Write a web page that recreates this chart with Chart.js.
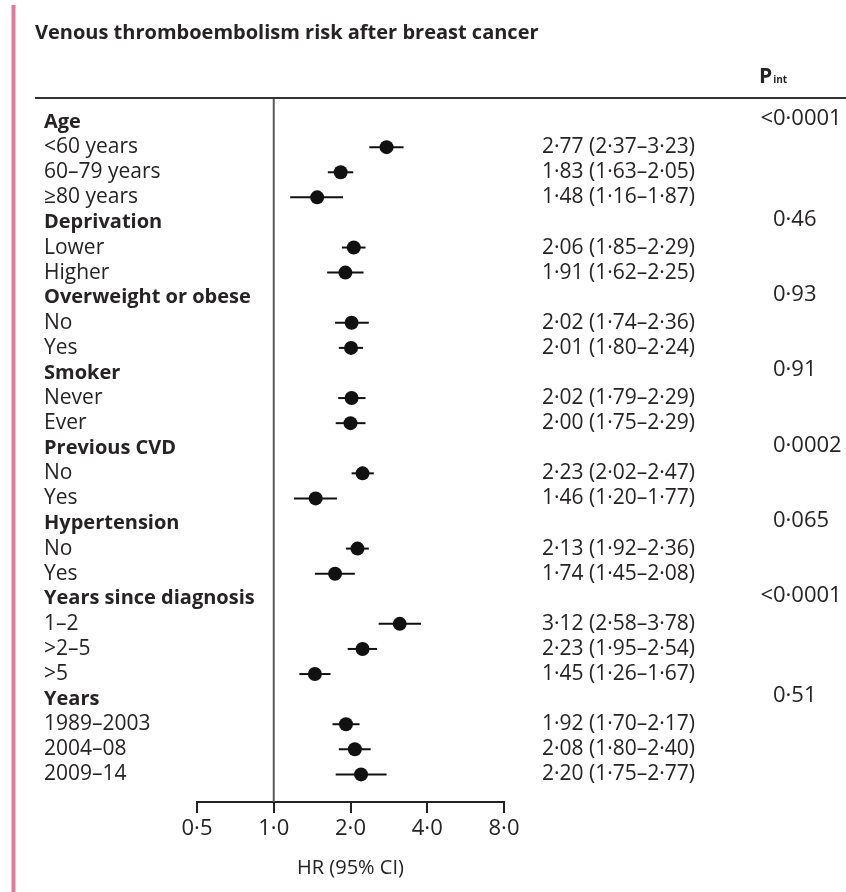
<!DOCTYPE html>
<html>
<head>
<meta charset="utf-8">
<script src="https://cdn.jsdelivr.net/npm/chart.js@4"></script>
<style>
  html, body { margin: 0; padding: 0; background: #fff; }
</style>
</head>
<body>
<canvas id="forestChart" width="846" height="892"></canvas>
<script>
// Dados do gráfico
const groupNames = ['Age', 'Deprivation', 'Overweight or obese', 'Smoker', 'Previous CVD', 'Hypertension', 'Years since diagnosis', 'Years'];
const pInteraction = ['<0·0001', '0·46', '0·93', '0·91', '0·0002', '0·065', '<0·0001', '0·51'];
const subgroupNames = [
    ['<60 years', '60–79 years', '≥80 years'],
    ['Lower', 'Higher'],
    ['No', 'Yes'],
    ['Never', 'Ever'],
    ['No', 'Yes'],
    ['No', 'Yes'],
    ['1–2', '>2–5', '>5'],
    ['1989–2003', '2004–08', '2009–14']
];
const hrValues = [[2.77, 1.83, 1.48], [2.06, 1.91], [2.02, 2.01], [2.02, 2.00], [2.23, 1.46], [2.13, 1.74], [3.12, 2.23, 1.45], [1.92, 2.08, 2.20]];
const ciLower = [[2.37, 1.63, 1.16], [1.85, 1.62], [1.74, 1.80], [1.79, 1.75], [2.02, 1.20], [1.92, 1.45], [2.58, 1.95, 1.26], [1.70, 1.80, 1.75]];
const ciUpper = [[3.23, 2.05, 1.87], [2.29, 2.25], [2.36, 2.24], [2.29, 2.29], [2.47, 1.77], [2.36, 2.08], [3.78, 2.54, 1.67], [2.17, 2.40, 2.77]];
const xTickValues = [0.5, 1, 2, 4, 8];

const titleText = 'Venous thromboembolism risk after breast cancer';
const axisTitle = 'HR (95% CI)';

const FONT = '"Open Sans", "Noto Sans", sans-serif';
const INK = '#262324';

function fmt(v) {
    return v.toFixed(2).replace('.', '·');
}

// monta as linhas da tabela (cabeçalho do grupo + subgrupos)
const rows = [];
groupNames.forEach(function (g, gi) {
    rows.push({ label: g, header: true, p: pInteraction[gi] });
    subgroupNames[gi].forEach(function (s, si) {
        rows.push({ label: s, header: false, hr: hrValues[gi][si], lo: ciLower[gi][si], hi: ciUpper[gi][si] });
    });
});

const points = [];
rows.forEach(function (r, i) {
    if (!r.header) points.push({ x: r.hr, y: i, lo: r.lo, hi: r.hi });
});

const forestPlugin = {
    id: 'forest',
    beforeDraw(chart) {
        const ctx = chart.ctx;
        ctx.save();
        // faixa rosa na margem esquerda
        ctx.fillStyle = '#f3b9cc';
        ctx.fillRect(11, 5, 5, chart.height - 5);
        ctx.fillStyle = '#de7a9d';
        ctx.fillRect(12, 5, 3, chart.height - 5);
        ctx.restore();
    },
    beforeDatasetsDraw(chart) {
        const ctx = chart.ctx;
        const xs = chart.scales.x, ys = chart.scales.y;
        const area = chart.chartArea;
        ctx.save();
        // linha de referência HR = 1
        ctx.strokeStyle = '#5a5a5a';
        ctx.lineWidth = 2;
        ctx.beginPath();
        ctx.moveTo(xs.getPixelForValue(1), area.top);
        ctx.lineTo(xs.getPixelForValue(1), area.bottom);
        ctx.stroke();
        // régua superior da tabela
        ctx.strokeStyle = '#333';
        ctx.beginPath();
        ctx.moveTo(35, area.top);
        ctx.lineTo(846, area.top);
        ctx.stroke();
        // intervalos de confiança
        ctx.strokeStyle = '#111';
        ctx.lineWidth = 2;
        points.forEach(function (p) {
            const y = ys.getPixelForValue(p.y);
            ctx.beginPath();
            ctx.moveTo(xs.getPixelForValue(p.lo), y);
            ctx.lineTo(xs.getPixelForValue(p.hi), y);
            ctx.stroke();
        });
        ctx.restore();
    },
    afterDraw(chart) {
        const ctx = chart.ctx;
        const ys = chart.scales.y;
        ctx.save();
        ctx.fillStyle = INK;
        ctx.textBaseline = 'middle';
        ctx.textAlign = 'left';

        ctx.font = 'bold 20px ' + FONT;
        ctx.fillText(titleText, 35, 33);

        // cabeçalho P_int
        ctx.textBaseline = 'alphabetic';
        ctx.font = 'bold 21px ' + FONT;
        ctx.fillText('P', 759, 83);
        const pw = ctx.measureText('P').width;
        ctx.font = 'bold 10px ' + FONT;
        ctx.fillText('int', 759 + pw + 1, 83);
        ctx.textBaseline = 'middle';

        rows.forEach(function (r, i) {
            const y = ys.getPixelForValue(i);
            if (r.header) {
                ctx.font = 'bold 20px ' + FONT;
                ctx.fillText(r.label, 44, y);
                ctx.font = '22px ' + FONT;
                let x = 773;
                if (r.p.charAt(0) === '<') x -= ctx.measureText('<').width;
                ctx.fillText(r.p, x, y - 3);
            } else {
                ctx.font = '21px ' + FONT;
                ctx.fillText(r.label, 44, y);
                ctx.fillText(fmt(r.hr) + ' (' + fmt(r.lo) + '–' + fmt(r.hi) + ')', 542, y);
            }
        });
        ctx.restore();
    }
};

const ctxForest = document.getElementById('forestChart');
new Chart(ctxForest, {
    type: 'scatter',
    data: {
        datasets: [{
            data: points,
            pointRadius: 7,
            pointHoverRadius: 7,
            backgroundColor: '#111',
            borderColor: '#111',
            borderWidth: 0
        }]
    },
    options: {
        responsive: false,
        devicePixelRatio: 1,
        animation: false,
        layout: { padding: { left: 197, right: 342, top: 98, bottom: 0 } },
        plugins: { legend: { display: false }, tooltip: { enabled: false } },
        scales: {
            x: {
                type: 'logarithmic',
                min: 0.5,
                max: 8,
                afterBuildTicks: function (scale) {
                    scale.ticks = xTickValues.map(function (v) { return { value: v }; });
                },
                afterFit: function (scale) { scale.height = 90; },
                ticks: {
                    color: INK,
                    font: { family: FONT, size: 22 },
                    padding: 3,
                    maxRotation: 0,
                    autoSkip: false,
                    callback: function (v) { return v.toFixed(1).replace('.', '·'); }
                },
                grid: { drawOnChartArea: false, drawTicks: true, tickLength: 11, color: '#222', lineWidth: 2 },
                border: { display: true, color: '#222', width: 2 },
                title: { display: true, text: axisTitle, color: INK, font: { family: FONT, size: 20 }, padding: { top: 0, bottom: 12 } }
            },
            y: {
                type: 'linear',
                min: -0.96,
                max: 27.1,
                reverse: true,
                display: false
            }
        }
    },
    plugins: [forestPlugin]
});
</script>
</body>
</html>
